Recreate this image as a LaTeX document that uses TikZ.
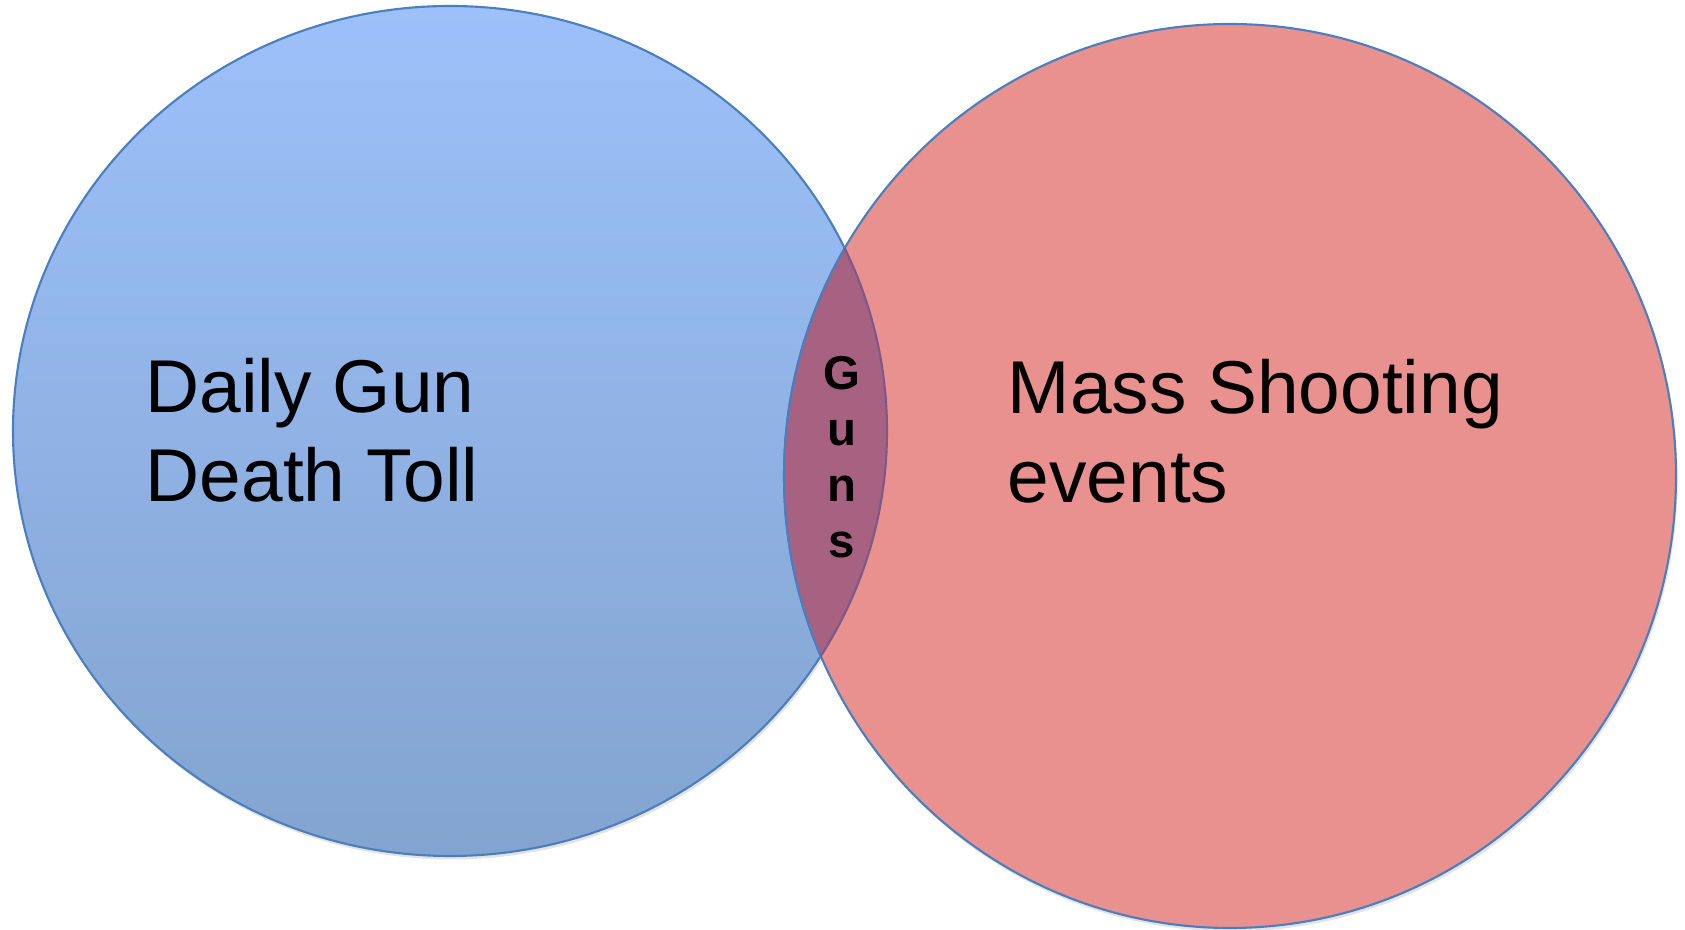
\documentclass[tikz,border=0pt]{standalone}
\usepackage{fontspec}
\setmainfont{Liberation Sans}
\usetikzlibrary{shadows}
\definecolor{bluetop}{RGB}{157,192,250}
\definecolor{bluebottom}{RGB}{131,164,207}
\definecolor{setred}{RGB}{232,145,143}
\definecolor{setline}{RGB}{74,126,190}
\definecolor{overlapfill}{RGB}{166,98,128}
\definecolor{overlapline}{RGB}{125,88,140}
\tikzset{
x=0.1mm, y=0.1mm, % one unit is one pixel of the reference
set shadow/.style={drop shadow={shadow xshift=0.15mm, shadow yshift=-0.35mm, opacity=0.22}}, % soft shadow under the circles
left set/.style={draw=setline, line width=0.6pt, top color=bluetop, bottom color=bluebottom, set shadow},
right set/.style={draw=setline, line width=0.6pt, fill=setred, set shadow},
set label/.style={anchor=base west, align=left, inner sep=0pt, font=\fontsize{21.3}{25.6}\selectfont},
overlap label/.style={anchor=base, align=center, inner sep=0pt, font=\bfseries\fontsize{13.5}{16}\selectfont},
}

\begin{document}
\begin{tikzpicture}
    \useasboundingbox (0,0) rectangle (1685,-930);
    \coordinate (deaths) at (450,-431);
    \coordinate (shootings) at (1230,-476);
    % the two sets
    \path[left set] (deaths) ellipse [x radius=437, y radius=425];
    \path[right set] (shootings) ellipse [x radius=446, y radius=452];
    % the overlap
    \begin{scope}
        \clip (deaths) ellipse [x radius=437, y radius=425];
        \fill[overlapfill] (shootings) ellipse [x radius=446, y radius=452];
        \draw[setline, line width=0.6pt] (shootings) ellipse [x radius=446, y radius=452];
    \end{scope}
    \begin{scope}
        \clip (shootings) ellipse [x radius=446, y radius=452];
        \draw[overlapline, line width=0.6pt] (deaths) ellipse [x radius=437, y radius=425];
    \end{scope}
    % labels, placed by the baseline of their last line
    \node[set label] (daily) at (145,-502) {Daily Gun\\Death Toll};
    \node[set label] (mass) at (1007,-503) {Mass Shooting\\events};
    \node[overlap label] (guns) at (842,-558) {G\\u\\n\\s};
\end{tikzpicture}
\end{document}
